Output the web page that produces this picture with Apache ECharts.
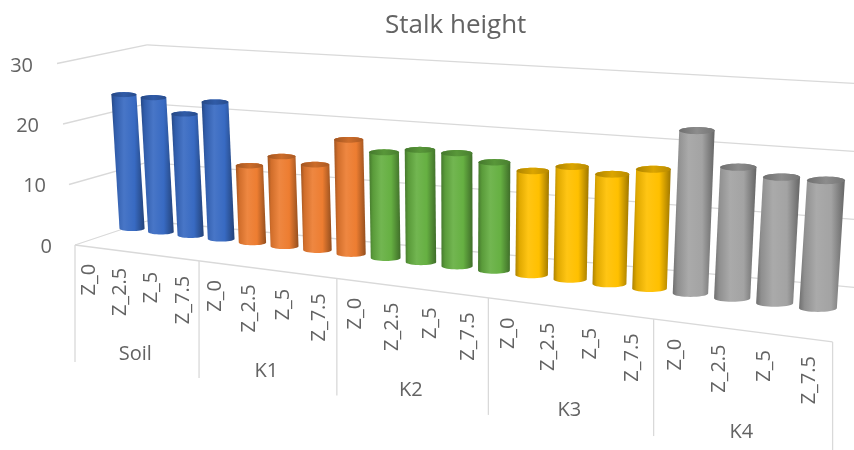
<!DOCTYPE html>
<html>
<head>
<meta charset="utf-8">
<script src="https://cdn.jsdelivr.net/npm/echarts@6/dist/echarts.min.js"></script>
<style>
  html, body { margin: 0; padding: 0; background: #fff; }
  #chart { width: 854px; height: 450px; }
</style>
</head>
<body>
<div id="chart"></div>
<script>
// Stalk height by soil treatment and zone
const groups = ['Soil', 'K1', 'K2', 'K3', 'K4'];
const zones = ['Z_0', 'Z_2.5', 'Z_5', 'Z_7.5'];
const soilValues = [22.6, 22.5, 20.2, 22.6];
const k1Values = [12.6, 14.6, 13.8, 18.3];
const k2Values = [16.8, 17.7, 17.7, 16.8];
const k3Values = [16.0, 17.2, 16.6, 17.9];
const k4Values = [24.2, 19.3, 18.4, 18.5];
const yTicks = [0, 10, 20, 30];
const groupColors = ['#386ac2', '#ed7d31', '#66b042', '#ffc000', '#a3a3a3'];

const groupValues = [soilValues, k1Values, k2Values, k3Values, k4Values];
const yMax = yTicks[yTicks.length - 1];
const N = groups.length * zones.length;

const categoryNames = [];
const barData = [];
const labelData = [];
groups.forEach((g, gi) => {
  zones.forEach((z, zi) => {
    const idx = gi * zones.length + zi;
    categoryNames.push(g + ' ' + z);
    barData.push([idx, groupValues[gi][zi], gi]);
    labelData.push([idx, gi, zi]);
  });
});

// --- oblique view of the floor / walls (screen px) ---
const frontX = u => 75 + 29.3 * u + 0.429 * u * u;          // front floor edge
const frontY = x => 245 + 0.128 * (x - 75);
const backY0 = x => 221 + 0.0939 * (x - 147);                 // back wall, value 0
const backScale = x => 5.87 + 0.00132 * (x - 147);
const frontScale = 6.05, frontLean = 0.6, cornerX = 147, rightEdge = 854;
const barX = u => 117.9 + 28.1 * u + 0.40 * u * u;            // bar row (mid depth)
const barBaseY = x => 228 + 0.116 * (x - 127);
const barScale = x => 5.92 + 0.00143 * (x - 127);
const barLean = x => (x - 470) * 0.00018;
const barWidth = x => 25 + (x - 127) * 0.0185;

const gridColor = '#d9d9d9';
const textColor = '#636363';
const fontFamily = '"Open Sans", "Noto Sans", sans-serif';

function mix(hex, f) {
  const n = parseInt(hex.slice(1), 16);
  const c = [n >> 16, (n >> 8) & 255, n & 255];
  const t = f < 0 ? 0 : 255, p = Math.abs(f);
  const o = c.map(v => Math.round(v + (t - v) * p));
  return 'rgb(' + o.join(',') + ')';
}
function arc(cx, cy, rx, ry, a0, a1, steps) {
  const pts = [];
  for (let i = 0; i <= steps; i++) {
    const a = a0 + (a1 - a0) * i / steps;
    pts.push([cx + rx * Math.cos(a), cy + ry * Math.sin(a)]);
  }
  return pts;
}
function unitPx(api) {
  return (api.coord([0, 0])[1] - api.coord([0, yMax])[1]) / yMax;
}
function toU(params, api, idx) {
  const cs = params.coordSys;
  return (api.coord([idx, 0])[0] - cs.x) / cs.width * N;
}

// walls and floor lines, one item per value tick
function renderWalls(params, api) {
  const v = (api.coord([0, 0])[1] - api.coord([0, api.value(1)])[1]) / unitPx(api);
  const style = { stroke: gridColor, lineWidth: 1.3 };
  const cy = backY0(cornerX) - v * backScale(cornerX);
  const ry = backY0(rightEdge) - v * backScale(rightEdge);
  const fx = 75 - frontLean * v, fy = 245 - frontScale * v;
  const children = [
    { type: 'line', shape: { x1: fx, y1: fy, x2: cornerX, y2: cy }, style },
    { type: 'line', shape: { x1: cornerX, y1: cy, x2: rightEdge, y2: ry }, style }
  ];
  if (v === 0) {
    const ex = frontX(N);
    children.push({ type: 'line', shape: { x1: 75, y1: frontY(75), x2: ex, y2: frontY(ex) }, style });
  }
  return { type: 'group', children, silent: true };
}

// cylinder per category
function renderBar(params, api) {
  const idx = api.value(0), val = api.value(1), gi = api.value(2);
  const u = toU(params, api, idx);
  const xb = barX(u), yb = barBaseY(xb);
  const h = (api.coord([idx, 0])[1] - api.coord([idx, val])[1]) / unitPx(api) * barScale(xb);
  const xt = xb + barLean(xb) * h, yt = yb - h;
  const w = barWidth(xb), rx = w / 2, ry = w * 0.1;
  const base = groupColors[gi];
  const body = arc(xb, yb, rx, ry, Math.PI, 0, 18).concat(arc(xt, yt, rx, ry, 0, -Math.PI, 18));
  const top = arc(xt, yt, rx, ry, 0, Math.PI * 2, 36);
  return {
    type: 'group',
    children: [
      {
        type: 'polygon', shape: { points: body },
        style: {
          fill: {
            type: 'linear', x: 0, y: 0, x2: 1, y2: 0,
            colorStops: [
              { offset: 0, color: mix(base, -0.32) },
              { offset: 0.12, color: mix(base, -0.12) },
              { offset: 0.38, color: mix(base, 0.08) },
              { offset: 0.7, color: base },
              { offset: 1, color: mix(base, -0.38) }
            ]
          }
        }
      },
      {
        type: 'polygon', shape: { points: top },
        style: {
          fill: {
            type: 'linear', x: 0, y: 0, x2: 1, y2: 0,
            colorStops: [
              { offset: 0, color: mix(base, -0.32) },
              { offset: 0.5, color: mix(base, -0.14) },
              { offset: 1, color: mix(base, -0.28) }
            ]
          }
        }
      }
    ]
  };
}

// category labels, group names and separators on the front edge
function renderLabels(params, api) {
  const idx = api.value(0), gi = api.value(1), zi = api.value(2);
  const u = toU(params, api, idx);
  const lx = frontX(u);
  const children = [{
    type: 'text', x: lx, y: frontY(lx) + 17, rotation: Math.PI / 2,
    style: {
      text: zones[zi], x: 0, y: 0, align: 'right', verticalAlign: 'middle',
      fill: textColor, font: '20px ' + fontFamily
    }
  }];
  const sep = uu => {
    const sx = frontX(uu), sy = frontY(sx);
    return { type: 'line', shape: { x1: sx, y1: sy, x2: sx, y2: sy + 117 }, style: { stroke: gridColor, lineWidth: 1.3 } };
  };
  if (zi === 0) {
    children.push(sep(u - 0.5));
    const gx = frontX(u - 0.5 + zones.length / 2);
    children.push({
      type: 'text', x: gx, y: frontY(gx) + 102,
      style: {
        text: groups[gi], x: 0, y: 0, align: 'center', verticalAlign: 'middle',
        fill: textColor, font: '20px ' + fontFamily
      }
    });
  }
  if (idx === N - 1) children.push(sep(u + 0.5));
  return { type: 'group', children, silent: true };
}

const rich = {};
yTicks.forEach(v => {
  rich['p' + v] = { padding: [0, Math.round(v * 0.63), 0, 0], fontSize: 20, color: textColor, fontFamily };
});

const chart = echarts.init(document.getElementById('chart'));
chart.setOption({
  animation: false,
  backgroundColor: '#fff',
  title: {
    text: 'Stalk height', left: 380, top: 8,
    textStyle: { fontFamily, fontSize: 26, fontWeight: 'normal', color: textColor }
  },
  grid: { left: 75, right: 20, top: 66, bottom: 203 },
  xAxis: { type: 'category', data: categoryNames, show: false },
  yAxis: {
    type: 'value', min: 0, max: yMax, interval: 10,
    axisLine: { show: false }, axisTick: { show: false }, splitLine: { show: false },
    axisLabel: { margin: 23, formatter: v => '{p' + v + '|' + v + '}', rich, fontSize: 20, color: textColor, fontFamily }
  },
  series: [
    { type: 'custom', name: 'walls', renderItem: renderWalls, clip: false, silent: true,
      data: yTicks.map(v => [0, v]), encode: { x: 0, y: 1 } },
    { type: 'custom', name: 'Stalk height', renderItem: renderBar, clip: false,
      data: barData, encode: { x: 0, y: 1 } },
    { type: 'custom', name: 'labels', renderItem: renderLabels, clip: false, silent: true,
      data: labelData, encode: { x: 0, y: 1 } }
  ]
});
</script>
</body>
</html>
